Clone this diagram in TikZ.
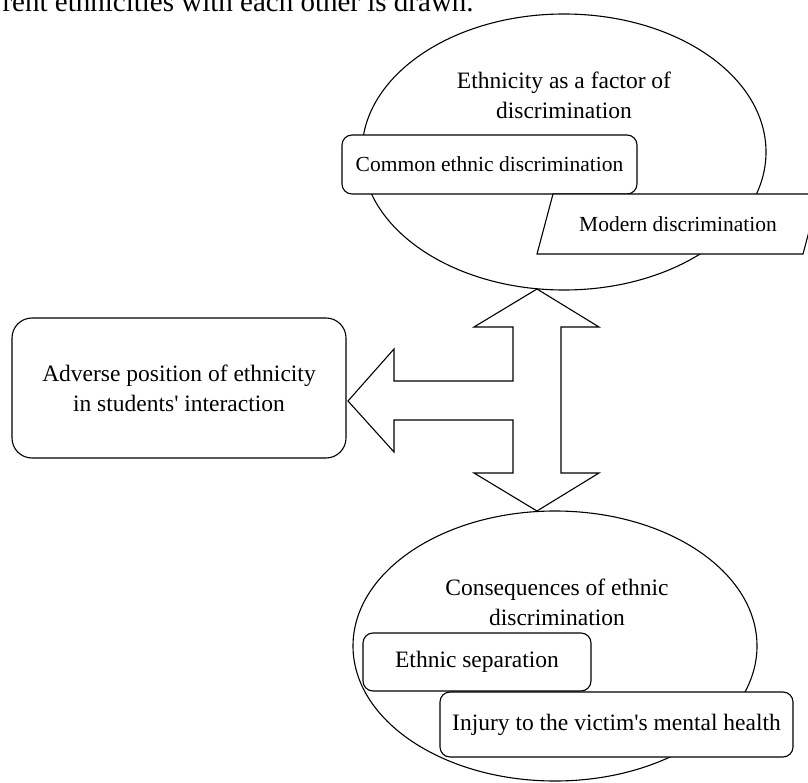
\documentclass[tikz,border=0pt]{standalone}
\usepackage{fontspec}
\setmainfont{Liberation Serif}[Ligatures=TeXOff]
\usetikzlibrary{shapes.geometric,positioning}

\begin{document}
\begin{tikzpicture}[x=1pt,y=-1pt,line width=1.1pt,
    blob/.style={draw,ellipse,inner sep=0pt},
    title/.style={align=center,font=\fontsize{23.5}{30}\selectfont},
    item/.style={draw,fill=white,rounded corners=10pt,inner sep=0pt,font=\fontsize{21.5}{26}\selectfont},
    bigitem/.style={draw,fill=white,rounded corners=10pt,inner sep=0pt,font=\fontsize{23.5}{30}\selectfont}]
        \useasboundingbox (0,0) rectangle (808,783);
        \node[anchor=base west,inner sep=0pt,font=\fontsize{29}{34}\selectfont] (intro) at (2,12) {rent ethnicities with each other is drawn.};
        % the two ellipses
        \node[blob,minimum width=404pt,minimum height=276pt] (factor) at (564,152) {};
        \node[blob,minimum width=404pt,minimum height=270pt] (conseq) at (555,646) {};
        \node[title] (factorLbl) at (564,95) {Ethnicity as a factor of\\discrimination};
        \node[title] (conseqLbl) at (557,602) {Consequences of ethnic\\discrimination};
        % boxes
        \node[item,minimum width=295pt,minimum height=59pt] (common) at (489.5,164.5) {Common ethnic discrimination};
        \draw[fill=white] (553,194) -- (819,194) -- (803,254) -- (537,254) -- cycle;
        \node[inner sep=0pt,font=\fontsize{21.5}{26}\selectfont] (modern) at (678,224) {Modern discrimination};
        \node[bigitem,rounded corners=20pt,align=center,minimum width=334pt,minimum height=140pt] (adverse) at (179,388) {Adverse position of ethnicity\\in students' interaction};
        \node[bigitem,minimum width=228pt,minimum height=58pt] (separation) at (477,662) {Ethnic separation};
        \node[bigitem,minimum width=353pt,minimum height=65pt] (injury) at (616.5,724.5) {Injury to the victim's mental health};
        % block arrow
        \coordinate (tipTop) at (537,289);
        \coordinate (tipBot) at (537,511);
        \coordinate (tipLeft) at (348,401);
        \draw[line join=miter] (tipTop) -- (599,327) -- (561,327) -- (561,473) -- (599,473) -- (tipBot)
            -- (474,473) -- (513,473) -- (513,420) -- (394,420) -- (394,452) -- (tipLeft)
            -- (394,349) -- (394,381) -- (513,381) -- (513,327) -- (474,327) -- cycle;
\end{tikzpicture}
\end{document}
